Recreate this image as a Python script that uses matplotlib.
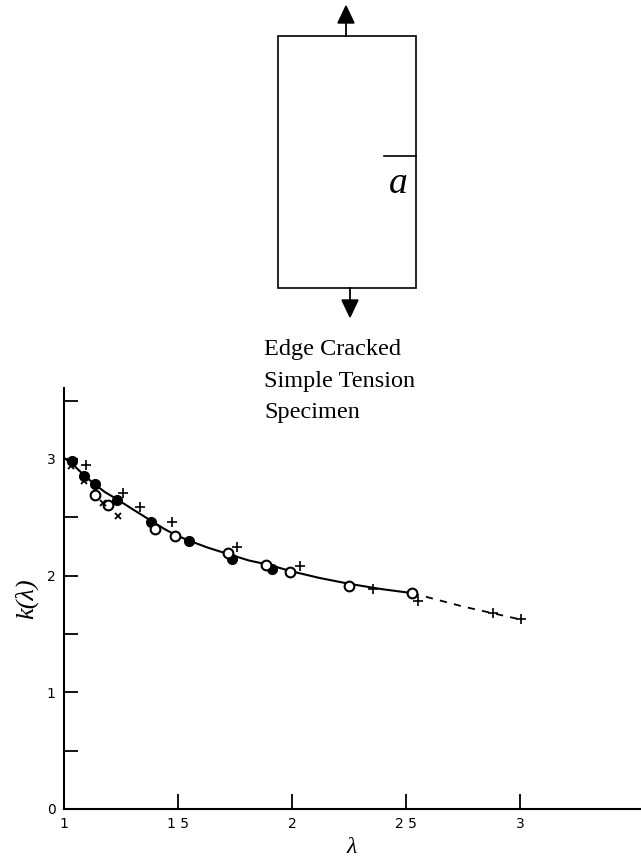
import matplotlib
matplotlib.use("Agg")
import matplotlib.pyplot as plt
from matplotlib.patches import Rectangle, Polygon

# ---------------- data ----------------
curve_x = [1.0, 1.04, 1.088, 1.136, 1.18, 1.232, 1.30, 1.382, 1.44, 1.487, 1.548,
           1.63, 1.728, 1.81, 1.904, 1.991, 2.12, 2.25, 2.39, 2.526]
curve_y = [3.01, 2.95, 2.86, 2.78, 2.715, 2.655, 2.57, 2.47, 2.40, 2.35, 2.30,
           2.24, 2.18, 2.13, 2.09, 2.04, 1.98, 1.93, 1.885, 1.85]
dash_x = [2.526, 2.75, 3.0]
dash_y = [1.85, 1.735, 1.625]

filled_x = [1.035, 1.088, 1.136, 1.232, 1.382, 1.548, 1.737, 1.912]
filled_y = [2.98, 2.853, 2.784, 2.647, 2.457, 2.293, 2.138, 2.06]

open_x = [1.136, 1.193, 1.399, 1.487, 1.719, 1.886, 1.991, 2.25, 2.526]
open_y = [2.69, 2.603, 2.397, 2.336, 2.19, 2.095, 2.034, 1.914, 1.853]

plus_x = [1.096, 1.259, 1.333, 1.474, 1.759, 2.035, 2.355, 2.553, 2.882, 3.004]
plus_y = [2.948, 2.707, 2.586, 2.457, 2.241, 2.078, 1.888, 1.784, 1.681, 1.629]

cross_x = [1.031, 1.088, 1.171, 1.237]
cross_y = [2.94, 2.81, 2.62, 2.51]

xticks = [1, 1.5, 2, 2.5, 3]
xtick_labels = ["1", "1 5", "2", "2 5", "3"]
yticks = [0, 0.5, 1, 1.5, 2, 2.5, 3, 3.5]
ytick_labels = ["0", "", "1", "", "2", "", "3", ""]

caption_lines = ["Edge Cracked", "Simple Tension", "Specimen"]

# ---------------- figure ----------------
W, H = 641, 866
fig = plt.figure(figsize=(W / 100, H / 100), dpi=100)

x0_px, x1_px = 64, 640
y0_px, y1_px = 809, 388
ax = fig.add_axes([x0_px / W, 1 - y0_px / H, (x1_px - x0_px) / W, (y0_px - y1_px) / H])
ax.set_xlim(1, 1 + (x1_px - x0_px) / 228)
ax.set_ylim(0, (y0_px - y1_px) / 116.7)

for s in ["top", "right"]:
    ax.spines[s].set_visible(False)
for s in ["left", "bottom"]:
    ax.spines[s].set_linewidth(1.5)

ax.plot(curve_x, curve_y, color="black", lw=1.5, zorder=2)
ax.plot(dash_x, dash_y, color="black", lw=1.3, ls=(0, (4, 4)), zorder=2)

ax.plot(filled_x, filled_y, ls="none", marker="o", ms=7, mfc="black", mec="black", zorder=3)
ax.plot(open_x, open_y, ls="none", marker="o", ms=7, mfc="white", mec="black", mew=1.5, zorder=3)
ax.plot(plus_x, plus_y, ls="none", marker="+", ms=7, mec="black", mew=1.2, zorder=3)
ax.plot(cross_x, cross_y, ls="none", marker="x", ms=5, mec="black", mew=1.3, zorder=3)

ax.set_xticks(xticks)
ax.set_xticklabels(xtick_labels, fontsize=10, family="DejaVu Sans")
ax.set_yticks(yticks)
ax.set_yticklabels(ytick_labels, fontsize=10, family="DejaVu Sans")
ax.tick_params(axis="both", direction="in", width=1.3)
ax.tick_params(axis="x", length=11, pad=6)
ax.tick_params(axis="y", length=10, pad=6)

ax.set_xlabel("λ", fontsize=17, family="Liberation Serif", style="italic", labelpad=4)
ax.set_ylabel("k(λ)", fontsize=19, family="Liberation Serif", style="italic", labelpad=6)

# ---------------- specimen sketch (pixel coordinates overlay) ----------------
ov = fig.add_axes([0, 0, 1, 1], facecolor="none")
ov.set_xlim(0, W)
ov.set_ylim(H, 0)
ov.axis("off")

ov.add_patch(Rectangle((278, 36), 138, 252, fill=False, ec="black", lw=1.2))
ov.plot([384, 416], [156, 156], color="black", lw=1.2)
ov.text(398, 193, "a", fontsize=27, family="Liberation Serif", style="italic",
        ha="center", va="baseline")
# top arrow
ov.plot([346, 346], [36, 22], color="black", lw=1.3)
ov.add_patch(Polygon([[338, 23], [354, 23], [346, 6]], closed=True, fc="black", ec="black"))
# bottom arrow
ov.plot([350, 350], [288, 301], color="black", lw=1.3)
ov.add_patch(Polygon([[342, 300], [358, 300], [350, 317]], closed=True, fc="black", ec="black"))

baselines = [355, 387, 418]
for line, yb in zip(caption_lines, baselines):
    ov.text(264, yb, line, fontsize=17.5, family="Liberation Serif", ha="left", va="baseline")

fig.savefig("out.png", dpi=100)
